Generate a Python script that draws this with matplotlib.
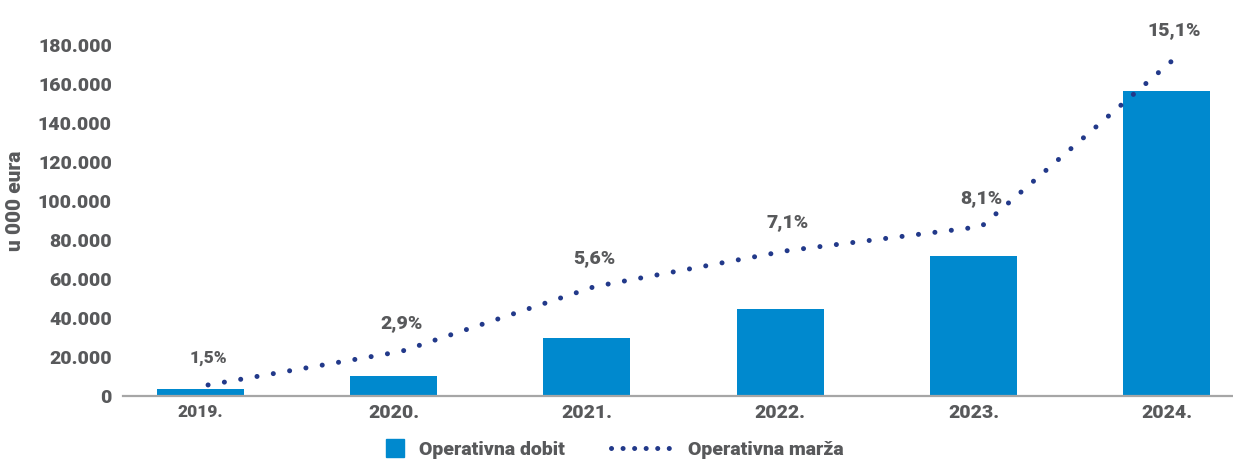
import matplotlib
matplotlib.use('Agg')
import matplotlib.pyplot as plt
from matplotlib.patches import Rectangle, Patch
from matplotlib.lines import Line2D
from matplotlib.legend_handler import HandlerPatch
from matplotlib.ticker import FuncFormatter

# ---- data ----
years = ['2019.', '2020.', '2021.', '2022.', '2023.', '2024.']
operativna_dobit = [3600, 10300, 29800, 44700, 72000, 156300]
operativna_marza = [1.5, 2.9, 5.6, 7.1, 8.1, 15.1]
marza_labels = ['1,5%', '2,9%', '5,6%', '7,1%', '8,1%', '15,1%']
y_ticks = [0, 20000, 40000, 60000, 80000, 100000, 120000, 140000, 160000, 180000]
y_label = 'u 000 eura'
legend_labels = ['Operativna dobit', 'Operativna marža']

# ---- style ----
BLUE = '#0089CE'
NAVY = '#22398A'
GRAY = '#58595B'
AXIS = '#A6A6A6'
FW = 'heavy'
FS = 14

plt.rcParams['font.family'] = ['Roboto', 'DejaVu Sans']
plt.rcParams['font.weight'] = FW

W, H = 1233, 459
fig = plt.figure(figsize=(W / 100, H / 100), dpi=100)
ax = fig.add_axes([123 / W, 63 / H, 1110 / W, 390 / H])

x = list(range(len(years)))
ax.bar(x, operativna_dobit, width=0.45, color=BLUE, zorder=2)

ax.set_xlim(-0.4, 5.342)
ax.set_ylim(0, 200000)
ax.set_yticks(y_ticks)
ax.yaxis.set_major_formatter(FuncFormatter(lambda v, p: f"{v:,.0f}".replace(',', '.')))
ax.set_xticks(x)
ax.set_xticklabels(years)
for i, t in enumerate(ax.get_xticklabels()):
    t.set_fontsize(12.5 if i == 0 else FS)
    t.set_color(GRAY)
    t.set_fontweight(FW)
for t in ax.get_yticklabels():
    t.set_fontsize(FS)
    t.set_color(GRAY)
    t.set_fontweight(FW)
ax.tick_params(axis='both', length=0)
ax.tick_params(axis='y', pad=8)
ax.tick_params(axis='x', pad=6)
for s in ['top', 'right', 'left']:
    ax.spines[s].set_visible(False)
ax.spines['bottom'].set_color(AXIS)
ax.spines['bottom'].set_linewidth(1.6)

# secondary (hidden) axis for margin line
ax2 = ax.twinx()
ax2.set_ylim(1.04, 17.29)
ax2.set_xlim(ax.get_xlim())
for s in ax2.spines.values():
    s.set_visible(False)
ax2.set_yticks([])
xl = [i + 0.04 for i in x]
ax2.plot(xl, operativna_marza, color=NAVY, lw=3.6, linestyle=(0, (0.01, 3.3)),
         dash_capstyle='round', solid_capstyle='round', zorder=3)
for i, (xv, yv, lab) in enumerate(zip(xl, operativna_marza, marza_labels)):
    ax2.annotate(lab, (xv, yv), xytext=(0, 14), textcoords='offset points',
                 ha='center', va='bottom', color=GRAY, fontweight=FW,
                 fontsize=12.5 if i == 0 else FS)

fig.text(16 / W, 1 - 201 / H, y_label, rotation=90, ha='center', va='center',
         fontsize=15, color=GRAY, fontweight=FW)


def square(legend, orig_handle, xdescent, ydescent, width, height, fontsize):
    s = 13
    return Rectangle((width - xdescent - s, -ydescent + height / 2 - s / 2), s, s)


handles = [Patch(color=BLUE, label=legend_labels[0]),
           Line2D([], [], color=NAVY, lw=3.6, linestyle=(0, (0.01, 2.3)),
                  dash_capstyle='round', label=legend_labels[1])]
leg = fig.legend(handles=handles, loc='center', bbox_to_anchor=(593 / W, 9 / H),
                 ncol=2, frameon=False, handlelength=3.2,
                 handletextpad=0.75, columnspacing=2.4, labelcolor=GRAY,
                 handler_map={Patch: HandlerPatch(patch_func=square)},
                 prop={'weight': FW, 'size': FS})

fig.savefig('out.png', dpi=100)
